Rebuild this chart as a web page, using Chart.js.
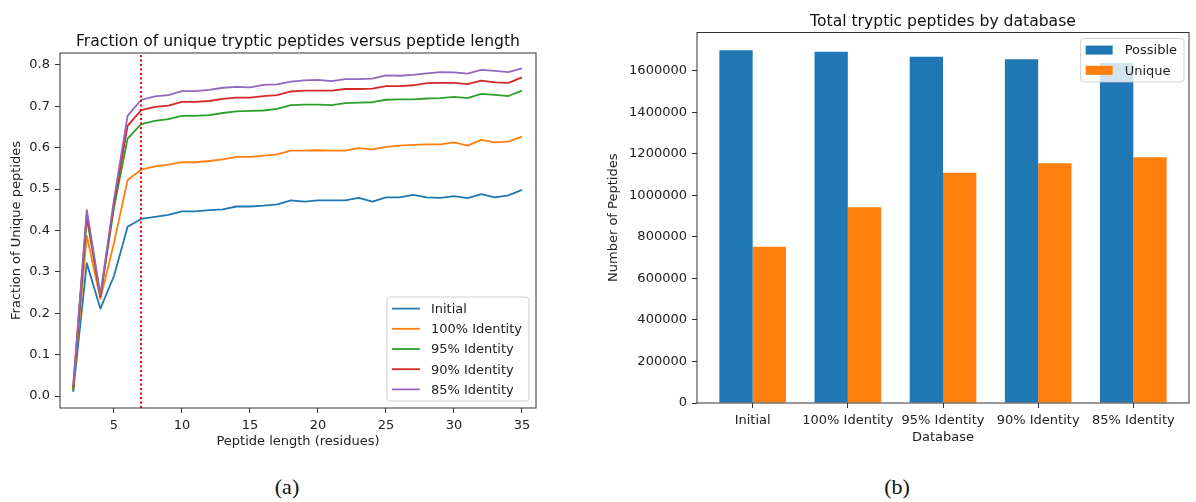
<!DOCTYPE html>
<html>
<head>
<meta charset="utf-8">
<script src="https://cdn.jsdelivr.net/npm/chart.js@4.4.1/dist/chart.umd.min.js"></script>
<style>
    html, body { margin: 0; padding: 0; background: #fff; width: 1196px; height: 502px; overflow: hidden; }
    .panel { position: absolute; top: 0; }
    .cap { position: absolute; top: 474px; line-height: 26px; font: 22px "Liberation Serif", serif; color: #111; transform: translateX(-50%); }
</style>
</head>
<body>
<div class="panel" style="left:0"><canvas id="chart-frac" width="570" height="470"></canvas></div>
<div class="panel" style="left:590px"><canvas id="chart-total" width="606" height="470"></canvas></div>
<div class="cap" style="left:287px">(a)</div>
<div class="cap" style="left:897px">(b)</div>

<script>
// =============================================
// Data - panel (a): fraction of unique peptides
// =============================================
const peptideLengths = [2, 3, 4, 5, 6, 7, 8, 9, 10, 11, 12, 13, 14, 15, 16, 17, 18,
    19, 20, 21, 22, 23, 24, 25, 26, 27, 28, 29, 30, 31, 32, 33, 34, 35];

const fracInitial = [0.010, 0.321, 0.211, 0.290, 0.409, 0.428, 0.433, 0.438, 0.446, 0.446, 0.449, 0.451, 0.458, 0.458, 0.460, 0.463, 0.473,
    0.470, 0.473, 0.473, 0.473, 0.479, 0.470, 0.480, 0.480, 0.486, 0.480, 0.479, 0.483, 0.478, 0.488, 0.480, 0.485, 0.498];
const frac100 = [0.015, 0.387, 0.235, 0.370, 0.522, 0.547, 0.555, 0.559, 0.565, 0.565, 0.568, 0.572, 0.578, 0.578, 0.581, 0.584, 0.593,
    0.593, 0.594, 0.593, 0.593, 0.599, 0.596, 0.602, 0.605, 0.607, 0.608, 0.608, 0.613, 0.605, 0.619, 0.613, 0.615, 0.627];
const frac95 = [0.013, 0.430, 0.240, 0.455, 0.622, 0.657, 0.665, 0.669, 0.677, 0.677, 0.679, 0.684, 0.688, 0.689, 0.690, 0.694, 0.703,
    0.704, 0.704, 0.703, 0.708, 0.709, 0.710, 0.716, 0.717, 0.717, 0.719, 0.720, 0.723, 0.720, 0.730, 0.728, 0.725, 0.738];
const frac90 = [0.020, 0.440, 0.240, 0.465, 0.653, 0.691, 0.699, 0.702, 0.711, 0.711, 0.713, 0.718, 0.721, 0.721, 0.725, 0.727, 0.736,
    0.738, 0.738, 0.738, 0.742, 0.742, 0.743, 0.749, 0.749, 0.751, 0.756, 0.757, 0.757, 0.754, 0.762, 0.758, 0.757, 0.770];
const frac85 = [0.025, 0.450, 0.245, 0.475, 0.677, 0.716, 0.724, 0.727, 0.737, 0.737, 0.740, 0.745, 0.747, 0.746, 0.752, 0.753, 0.760,
    0.763, 0.764, 0.761, 0.766, 0.766, 0.767, 0.775, 0.774, 0.776, 0.780, 0.783, 0.782, 0.779, 0.788, 0.786, 0.783, 0.792];

const seriesNames = ['Initial', '100% Identity', '95% Identity', '90% Identity', '85% Identity'];
const fracSeries = [fracInitial, frac100, frac95, frac90, frac85];
const cutoffLength = 7;

const lengthTicks = [5, 10, 15, 20, 25, 30, 35];
const fracTicks = [0.0, 0.1, 0.2, 0.3, 0.4, 0.5, 0.6, 0.7, 0.8];

// =============================================
// Data - panel (b): totals by database
// =============================================
const dbNames = ['Initial', '100% Identity', '95% Identity', '90% Identity', '85% Identity'];
const possibleCounts = [1699000, 1691000, 1667000, 1655000, 1637000];
const uniqueCounts = [752000, 943000, 1109000, 1154000, 1183000];
const countTicks = [0, 200000, 400000, 600000, 800000, 1000000, 1200000, 1400000, 1600000];

// matplotlib tab10
const palette = ['#1f77b4', '#ff7f0e', '#2ca02c', '#d62728', '#9467bd'];
const INK = '#222';
const FONT = { family: '"DejaVu Sans", sans-serif', size: 13 };

Chart.defaults.font.family = FONT.family;
Chart.defaults.font.size = FONT.size;
Chart.defaults.color = INK;

// ---------- matplotlib-ish frame, title, legend ----------
function drawLegend(ctx, a, lg) {
    ctx.font = '13px "DejaVu Sans"';
    const rowH = 20.2, padX = 5, padY = 1.5, handleW = 28, gap = 11;
    const textW = Math.max(...lg.items.map(it => ctx.measureText(it.label).width));
    const w = padX + handleW + gap + textW + 7;
    const h = lg.items.length * rowH + 2 * padY;
    const x0 = a.right - lg.inset - w;
    const y0 = lg.corner === 'lower' ? a.bottom - 7 - h : a.top + 6;

    ctx.beginPath();
    if (ctx.roundRect) ctx.roundRect(x0, y0, w, h, 3); else ctx.rect(x0, y0, w, h);
    ctx.fillStyle = 'rgba(255,255,255,0.8)';
    ctx.fill();
    ctx.strokeStyle = '#d0d0d0';
    ctx.lineWidth = 1;
    ctx.stroke();

    lg.items.forEach((it, i) => {
        const cy = y0 + padY + rowH * (i + 0.5);
        if (it.kind === 'line') {
            ctx.strokeStyle = it.color;
            ctx.lineWidth = 1.8;
            ctx.beginPath();
            ctx.moveTo(x0 + padX, cy);
            ctx.lineTo(x0 + padX + handleW, cy);
            ctx.stroke();
        } else {
            ctx.fillStyle = it.color;
            ctx.fillRect(x0 + padX, cy - 4.5, handleW - 1, 9);
        }
        ctx.fillStyle = INK;
        ctx.textAlign = 'left';
        ctx.textBaseline = 'middle';
        ctx.fillText(it.label, x0 + padX + handleW + gap, cy + 1);
    });
}

const mplAxes = {
    id: 'mplAxes',
    afterDatasetsDraw(chart, args, opts) {
        if (opts.cutoff == null) return;
        const { ctx, chartArea: a, scales } = chart;
        const x = Math.round(scales.x.getPixelForValue(opts.cutoff));
        ctx.save();
        ctx.strokeStyle = '#ff0000';
        ctx.lineWidth = 2;
        ctx.setLineDash([2, 2.5]);
        ctx.beginPath();
        ctx.moveTo(x, a.bottom);
        ctx.lineTo(x, a.top);
        ctx.stroke();
        ctx.restore();
    },
    afterDraw(chart, args, opts) {
        const { ctx, chartArea: a } = chart;
        ctx.save();
        ctx.strokeStyle = '#333';
        ctx.lineWidth = 1;
        ctx.strokeRect(a.left, a.top, a.right - a.left, a.bottom - a.top);

        ctx.fillStyle = '#111';
        ctx.font = '15.6px "DejaVu Sans"';
        ctx.textAlign = 'center';
        ctx.textBaseline = 'alphabetic';
        ctx.fillText(opts.title, (a.left + a.right) / 2, a.top - 7);

        if (opts.legend) drawLegend(ctx, a, opts.legend);
        ctx.restore();
    }
};

function axisBase(titleText, titlePad) {
    return {
        offset: false,
        border: { display: false },
        grid: { drawOnChartArea: false, drawTicks: true, tickLength: 5, tickColor: '#333', offset: false },
        ticks: { font: FONT, color: INK, padding: 5, maxRotation: 0, autoSkip: false },
        title: { display: true, text: titleText, font: FONT, color: INK, padding: titlePad }
    };
}

// ---------- (a) line chart ----------
function renderFraction() {
    const x = axisBase('Peptide length (residues)', { top: 0, bottom: 8.5 });
    Object.assign(x, {
        type: 'linear', min: 1.03, max: 36.03,
        afterBuildTicks: ax => { ax.ticks = lengthTicks.map(v => ({ value: v })); },
        afterFit: ax => { ax.height = 50; }
    });
    x.ticks.callback = v => String(v);

    const y = axisBase('Fraction of Unique peptides', { top: 9, bottom: 0 });
    Object.assign(y, {
        type: 'linear', min: -0.029, max: 0.829,
        afterBuildTicks: ax => { ax.ticks = fracTicks.map(v => ({ value: v })); },
        afterFit: ax => { ax.width = 60; }
    });
    y.ticks.callback = v => v.toFixed(1);

    new Chart(document.getElementById('chart-frac'), {
        type: 'line',
        data: {
            datasets: fracSeries.map((vals, i) => ({
                label: seriesNames[i],
                data: vals.map((v, j) => ({ x: peptideLengths[j], y: v })),
                borderColor: palette[i],
                borderWidth: 1.8,
                borderJoinStyle: 'round',
                pointRadius: 0,
                tension: 0,
                fill: false,
                order: fracSeries.length - i
            }))
        },
        options: {
            responsive: false,
            animation: false,
            devicePixelRatio: 1,
            layout: { padding: { top: 53, right: 34, bottom: 12, left: 0 } },
            scales: { x, y },
            plugins: {
                legend: { display: false },
                title: { display: false },
                tooltip: { enabled: false },
                mplAxes: {
                    title: 'Fraction of unique tryptic peptides versus peptide length',
                    cutoff: cutoffLength,
                    legend: {
                        corner: 'lower', inset: 7,
                        items: seriesNames.map((n, i) => ({ label: n, color: palette[i], kind: 'line' }))
                    }
                }
            }
        },
        plugins: [mplAxes]
    });
}

// ---------- (b) grouped bars ----------
function renderTotals() {
    const x = axisBase('Database', { top: 0, bottom: 8 });
    Object.assign(x, {
        type: 'linear', min: -0.585, max: 4.585,
        afterBuildTicks: ax => { ax.ticks = dbNames.map((_, i) => ({ value: i })); },
        afterFit: ax => { ax.height = 50; }
    });
    x.ticks.callback = v => dbNames[v];

    const y = axisBase('Number of Peptides', { top: 16, bottom: 0 });
    Object.assign(y, {
        type: 'linear', min: 0, max: 1784000,
        afterBuildTicks: ax => { ax.ticks = countTicks.map(v => ({ value: v })); },
        afterFit: ax => { ax.width = 107; }
    });
    y.ticks.callback = v => String(v);

    const barStyle = { categoryPercentage: 0.7, barPercentage: 1.0, borderWidth: 0 };

    new Chart(document.getElementById('chart-total'), {
        type: 'bar',
        data: {
            datasets: [
                { label: 'Possible', data: possibleCounts.map((v, i) => ({ x: i, y: v })), backgroundColor: palette[0], ...barStyle },
                { label: 'Unique', data: uniqueCounts.map((v, i) => ({ x: i, y: v })), backgroundColor: palette[1], ...barStyle }
            ]
        },
        options: {
            responsive: false,
            animation: false,
            devicePixelRatio: 1,
            layout: { padding: { top: 32.5, right: 7, bottom: 17, left: 0 } },
            scales: { x, y },
            plugins: {
                legend: { display: false },
                title: { display: false },
                tooltip: { enabled: false },
                mplAxes: {
                    title: 'Total tryptic peptides by database',
                    legend: {
                        corner: 'upper', inset: 5,
                        items: [
                            { label: 'Possible', color: palette[0], kind: 'patch' },
                            { label: 'Unique', color: palette[1], kind: 'patch' }
                        ]
                    }
                }
            }
        },
        plugins: [mplAxes]
    });
}

renderFraction();
renderTotals();
</script>
</body>
</html>
